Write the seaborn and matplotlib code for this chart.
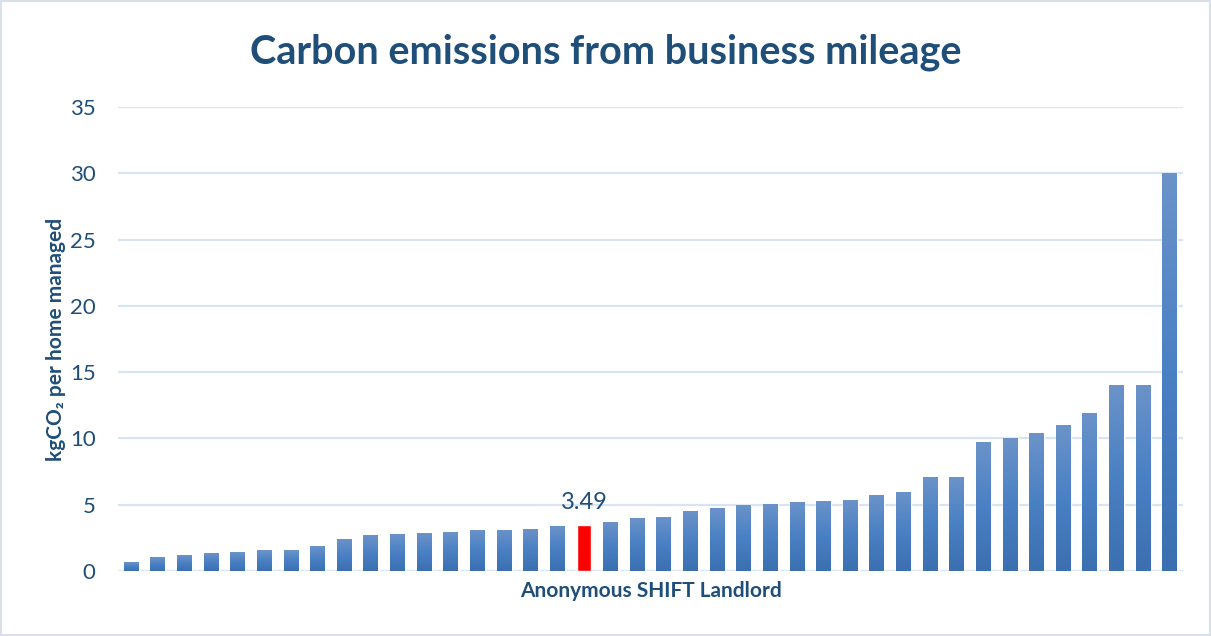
"""
Carbon emissions from business mileage - bar chart recreation
"""

import numpy as np
import pandas as pd
import matplotlib.pyplot as plt
import seaborn as sns
from matplotlib.colors import LinearSegmentedColormap

# Colours
TEXT_BLUE = '#1f4e79'
BAR_BLUE = '#4f81c2'
BAR_TOP = '#6b93c9'
BAR_BOTTOM = '#3b6fb0'
HIGHLIGHT = '#ff0000'
GRID_BLUE = '#d9e4f3'

# Data (kgCO2 per home managed, one bar per landlord, sorted)
values = [0.65, 1.03, 1.18, 1.33, 1.41, 1.56, 1.56, 1.86, 2.38, 2.68,
          2.76, 2.83, 2.91, 3.13, 3.13, 3.18, 3.42, 3.49, 3.70, 4.00,
          4.10, 4.50, 4.76, 5.00, 5.06, 5.20, 5.28, 5.35, 5.73, 5.98,
          7.10, 7.10, 9.73, 10.03, 10.40, 11.00, 11.90, 14.05, 14.05, 30.05]
landlords = [f'L{i + 1}' for i in range(len(values))]
highlight_idx = 17
y_ticks = [0, 5, 10, 15, 20, 25, 30, 35]

df = pd.DataFrame({'landlord': landlords, 'value': values})
palette = [HIGHLIGHT if i == highlight_idx else BAR_BLUE for i in range(len(values))]

sns.set_style('white')
plt.rcParams['font.family'] = ['Lato', 'DejaVu Sans']

fig = plt.figure(figsize=(12.11, 6.36), dpi=100)
ax = fig.add_axes([0.0974, 0.1022, 0.8796, 0.7296])

sns.barplot(data=df, x='landlord', y='value', hue='landlord', palette=palette,
            legend=False, width=0.56, ax=ax, saturation=1)

# vertical gradient on the blue bars (lighter at the top, like the original)
grad_cmap = LinearSegmentedColormap.from_list('bar', [BAR_BOTTOM, '#4a80c4', BAR_TOP])
grad = np.linspace(0, 1, 256).reshape(-1, 1)
for i, patch in enumerate(ax.patches):
    if i == highlight_idx:
        continue
    x0, y0 = patch.get_x(), patch.get_y()
    w, h = patch.get_width(), patch.get_height()
    im = ax.imshow(grad, cmap=grad_cmap, aspect='auto', origin='lower',
                   extent=(x0, x0 + w, y0, y0 + h), zorder=patch.get_zorder() + 0.1)
    im.set_clip_path(patch)
ax.set_xlim(-0.5, len(values) - 0.5)
ax.set_ylim(0, 35)

ax.set_yticks(y_ticks)
ax.set_yticklabels([str(t) for t in y_ticks], fontsize=16, color=TEXT_BLUE)
ax.set_xticks([])
ax.tick_params(axis='y', length=0, pad=16)
ax.grid(axis='y', color=GRID_BLUE, linewidth=1.6)
ax.set_axisbelow(True)
for s in ax.spines.values():
    s.set_visible(False)

ax.set_xlabel('Anonymous SHIFT Landlord', fontsize=15, fontweight='bold',
              color=TEXT_BLUE, labelpad=7)
ax.set_ylabel('kgCO₂ per home managed', fontsize=15, fontweight='bold',
              color=TEXT_BLUE, labelpad=3)

ax.text(highlight_idx, values[highlight_idx] + 0.9, f'{values[highlight_idx]:.2f}',
        ha='center', va='bottom', fontsize=17, color=TEXT_BLUE)

fig.suptitle('Carbon emissions from business mileage', fontsize=28.5, fontweight='bold',
             color=TEXT_BLUE, y=0.948)

# thin frame round the chart area
fig.patches.append(plt.Rectangle((0.001, 0.001), 0.998, 0.998, transform=fig.transFigure,
                                 fill=False, edgecolor='#d9e0ea', linewidth=1.5))

plt.savefig('out.png', dpi=100)
plt.close()
